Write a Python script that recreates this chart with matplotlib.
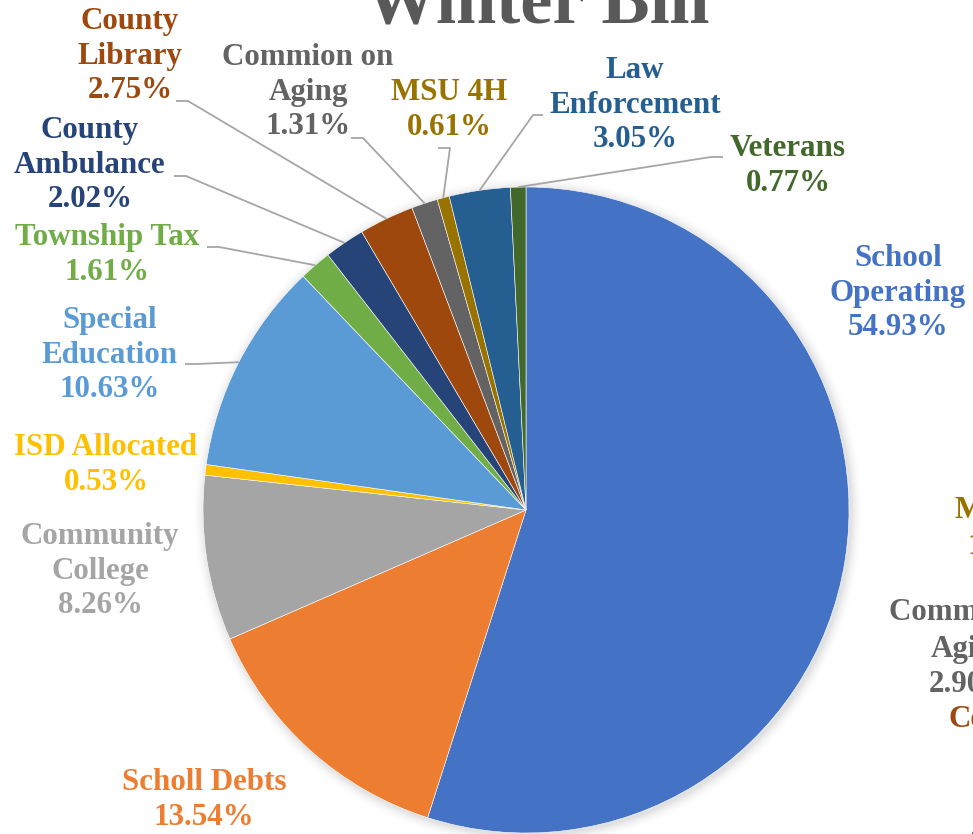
import numpy as np
import matplotlib.pyplot as plt
from matplotlib.patches import Circle

# slices, clockwise from 12 o'clock
names = ["School\nOperating", "Scholl Debts", "Community\nCollege", "ISD Allocated",
         "Special\nEducation", "Township Tax", "County\nAmbulance", "County\nLibrary",
         "Commion on\nAging", "MSU 4H", "Law\nEnforcement", "Veterans"]
shares = [54.93, 13.54, 8.26, 0.53, 10.63, 1.61, 2.02, 2.75, 1.31, 0.61, 3.05, 0.77]
colors = ["#4472C4", "#ED7D31", "#A5A5A5", "#FFC000", "#5B9BD5", "#70AD47",
          "#264478", "#9E480E", "#636363", "#997300", "#255E91", "#43682B"]

W, H = 973, 834
cx, cy, R = 526, 510, 323

# label centre positions in pixels (x from left, y from top)
label_pos = [(898, 293), (204, 800), (100, 571), (106, 465), (110, 355), (107, 255),
             (90, 165), (130, 56), (308, 92), (449, 110), (635, 105), (788, 166)]
# where the leader line leaves the label (pixels), None = no line
leader_start = [None, None, None, None, (185, 364), (207, 247), (174, 176), (176, 101),
                (351, 138), (438, 148), (543, 115), (723, 157)]

plt.rcParams['font.family'] = ['Liberation Serif', 'DejaVu Serif']

fig = plt.figure(figsize=(W / 100, H / 100), dpi=100)
ax = fig.add_axes([0, 0, 1, 1])

def py(y):
    return H - y

# soft shadow behind the pie
for i, a in enumerate(np.linspace(0.025, 0.004, 8)):
    ax.add_patch(Circle((cx + 2, py(cy) - 2), R + 1 + i * 1.5, color='black', alpha=a,
                        lw=0, zorder=0))

wedges, _ = ax.pie(shares, colors=colors, startangle=90, counterclock=False,
                   center=(cx, py(cy)), radius=R, frame=True,
                   wedgeprops=dict(linewidth=0.4, edgecolor='white'))
for w in wedges:
    w.set_zorder(2)
ax.set_xlim(0, W)
ax.set_ylim(0, H)
ax.set_aspect('equal')
ax.axis('off')

fs = 22.3
ls_ = 1.27
for w, name, val, col, pos, ls in zip(wedges, names, shares, colors, label_pos, leader_start):
    ax.text(pos[0], py(pos[1]), f"{name}\n{val:.2f}%", ha='center', va='center',
            color=col, fontsize=fs, fontweight='bold', linespacing=ls_, zorder=4)
    if ls is not None:
        mid = np.deg2rad((w.theta1 + w.theta2) / 2)
        ex, ey = cx + R * np.cos(mid), py(cy) + R * np.sin(mid)
        sx, sy = ls[0], py(ls[1])
        if ls[0] < cx - 50:
            kx = sx + 12
        elif ls[0] > cx + 100:
            kx = sx - 12
        elif ls[0] > cx:
            kx = sx - 10
        else:
            kx = sx
        ax.plot([sx, kx, ex], [sy, sy, ey], color='#A6A6A6', lw=1.3, zorder=3,
                solid_capstyle='butt')

# title, partly cut off at the top
ax.text(537, py(22), "Winter Bill", ha='center', va='baseline', color='#595959',
        fontsize=52, fontweight='bold', zorder=4)

# pieces of the neighbouring chart showing at the right edge
ax.text(955, py(511), "MSU 4H", ha='left', va='center', color='#997300',
        fontsize=fs, fontweight='bold')
ax.text(967, py(546), "1.", ha='left', va='center', color='#997300',
        fontsize=fs, fontweight='bold')
ax.text(889, py(613), "Commion on", ha='left', va='center', color='#636363',
        fontsize=fs, fontweight='bold')
ax.text(931, py(649), "Aging", ha='left', va='center', color='#636363',
        fontsize=fs, fontweight='bold')
ax.text(929, py(685), "2.90%", ha='left', va='center', color='#636363',
        fontsize=fs, fontweight='bold')
ax.text(949, py(720), "County", ha='left', va='center', color='#9E480E',
        fontsize=fs, fontweight='bold')
ax.text(964, py(845), "A", ha='left', va='center', color='#264478',
        fontsize=fs, fontweight='bold')

fig.savefig('out.png', dpi=100)
